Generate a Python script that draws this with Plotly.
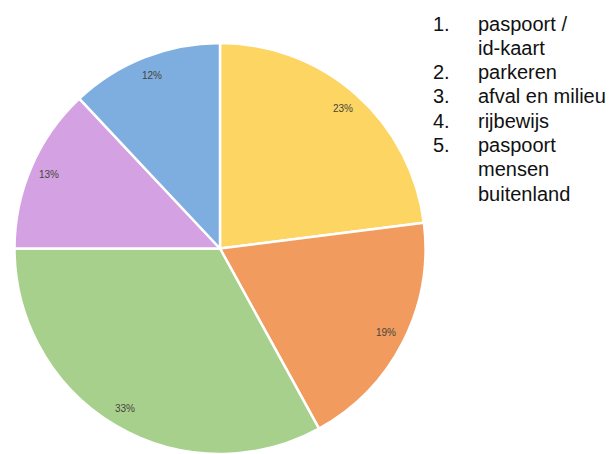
import math
import plotly.graph_objects as go

# ---- data ----
labels = ["paspoort / id-kaart", "parkeren", "afval en milieu", "rijbewijs", "paspoort mensen buitenland"]
values = [23, 19, 33, 13, 12]
colors = ["#FDD562", "#F29B5E", "#A8D08D", "#D4A2E2", "#7EAEDF"]
legend_numbers = ["1.", "", "2.", "3.", "4.", "5.", "", ""]
legend_lines = ["paspoort /", "id-kaart", "parkeren", "afval en milieu", "rijbewijs",
                "paspoort", "mensen", "buitenland"]

W, H = 616, 454
# pie geometry (pixels)
top_px = 43
diam = H - top_px
cx_px = 220
cy_px = top_px + diam / 2
r_px = diam / 2

fig = go.Figure()
fig.add_trace(go.Pie(
    labels=labels,
    values=values,
    sort=False,
    direction="clockwise",
    rotation=0,
    marker=dict(colors=colors, line=dict(color="#FFFFFF", width=2.5)),
    textinfo="none",
    hoverinfo="label+percent",
    showlegend=False,
    domain=dict(x=[(cx_px - r_px) / W, (cx_px + r_px) / W], y=[0, 1 - top_px / H]),
))

annotations = []
# percentage labels near the outer edge of each slice
total = sum(values)
cum = 0
for v in values:
    mid = (cum + v / 2) / total * 2 * math.pi
    cum += v
    rr = 0.905 * r_px
    x = cx_px + rr * math.sin(mid)
    y = cy_px - rr * math.cos(mid)
    annotations.append(dict(
        x=x / W, y=1 - y / H, xref="paper", yref="paper",
        text=f"{round(v / total * 100)}%", showarrow=False,
        font=dict(family="Liberation Sans, Arial", size=10, color="#45453C"),
        xanchor="center", yanchor="middle",
    ))

# numbered list on the right
fs = 20
first_mid = 23.5
step = 24.3
for i, (num, line) in enumerate(zip(legend_numbers, legend_lines)):
    ymid = first_mid + i * step
    if num:
        annotations.append(dict(
            x=431 / W, y=1 - ymid / H, xref="paper", yref="paper",
            text=num, showarrow=False, xanchor="left", yanchor="middle",
            font=dict(family="Liberation Sans, Arial", size=fs, color="#111111"),
        ))
    annotations.append(dict(
        x=476 / W, y=1 - ymid / H, xref="paper", yref="paper",
        text=line, showarrow=False, xanchor="left", yanchor="middle",
        font=dict(family="Liberation Sans, Arial", size=fs, color="#111111"),
    ))

fig.update_layout(
    width=W, height=H,
    margin=dict(l=0, r=0, t=0, b=0),
    paper_bgcolor="white", plot_bgcolor="white",
    annotations=annotations,
)

fig.write_html("out.html", config={"displayModeBar": False},
               post_script="document.body.style.margin='0';")
